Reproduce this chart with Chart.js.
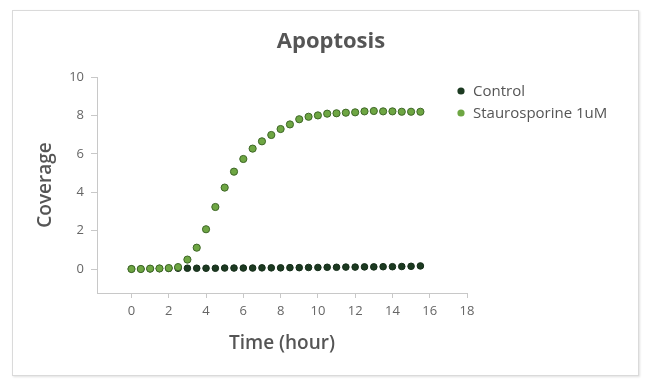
<!DOCTYPE html>
<html>
<head>
<meta charset="utf-8">
<script src="https://cdn.jsdelivr.net/npm/chart.js@4.4.1/dist/chart.umd.min.js"></script>
<style>
    html, body { margin: 0; padding: 0; background: #fff; }
    #wrap { position: relative; width: 650px; height: 383px; }
    #frame {
        position: absolute; left: 12px; top: 10px; width: 625px; height: 364px;
        border: 1px solid #dadada; box-shadow: 1px 1px 2px rgba(0, 0, 0, 0.12);
    }
    #apoptosisChart { position: absolute; left: 0; top: 0; }
</style>
</head>
<body>
<div id="wrap">
    <div id="frame"></div>
    <canvas id="apoptosisChart" width="650" height="383"></canvas>
</div>
<script>
const chartTitle = "Apoptosis";
const seriesNames = ["Control", "Staurosporine 1uM"];
const times = [0, 0.5, 1, 1.5, 2, 2.5, 3, 3.5, 4, 4.5, 5, 5.5, 6, 6.5, 7, 7.5,
    8, 8.5, 9, 9.5, 10, 10.5, 11, 11.5, 12, 12.5, 13, 13.5, 14, 14.5, 15, 15.5];
const controlValues = [0, 0, 0.01, 0.02, 0.03, 0.04, 0.04, 0.04, 0.04, 0.04, 0.05, 0.05,
    0.05, 0.05, 0.06, 0.06, 0.06, 0.07, 0.07, 0.08, 0.08, 0.09, 0.09, 0.1, 0.1, 0.11,
    0.11, 0.12, 0.12, 0.13, 0.14, 0.16];
const stauroValues = [0, 0, 0.02, 0.03, 0.05, 0.1, 0.49, 1.11, 2.07, 3.23, 4.24, 5.07,
    5.73, 6.27, 6.65, 6.98, 7.29, 7.53, 7.8, 7.93, 8.0, 8.09, 8.11, 8.14, 8.16, 8.21,
    8.23, 8.21, 8.21, 8.19, 8.19, 8.19];
const xTicks = [0, 2, 4, 6, 8, 10, 12, 14, 16, 18];
const yTicks = [0, 2, 4, 6, 8, 10];

(() => {
    const el = document.getElementById("apoptosisChart");
    const font = "'Open Sans', 'Noto Sans', sans-serif";
    const toPoints = vals => times.map((t, i) => ({ x: t, y: vals[i] }));

    // title and legend sit over the plot, so they are painted by hand
    const sideText = {
        id: "sideText",
        afterDraw(chart) {
            const ctx = chart.ctx;
            ctx.save();
            ctx.fillStyle = "#555";
            ctx.font = "bold 22px " + font;
            ctx.textAlign = "center";
            ctx.textBaseline = "alphabetic";
            ctx.fillText(chartTitle, 331, 48);

            // legend in the order: Control, Staurosporine
            const order = [1, 0];
            ctx.font = "15px " + font;
            ctx.textAlign = "left";
            ctx.textBaseline = "middle";
            order.forEach((di, row) => {
                const ds = chart.data.datasets[di];
                const y = 91 + row * 22;
                ctx.beginPath();
                ctx.arc(461, y, 3.6, 0, Math.PI * 2);
                ctx.fillStyle = ds.pointBackgroundColor;
                ctx.fill();
                ctx.fillStyle = "#555";
                ctx.fillText(ds.label, 473, y + 1);
            });
            ctx.restore();
        }
    };

    new Chart(el, {
        type: "scatter",
        data: {
            datasets: [
                {
                    label: seriesNames[1],
                    data: toPoints(stauroValues),
                    pointBackgroundColor: "#6ea643",
                    pointBorderColor: "#3d6626",
                    pointBorderWidth: 1,
                    pointRadius: 3.6
                },
                {
                    label: seriesNames[0],
                    data: toPoints(controlValues),
                    pointBackgroundColor: "#1c3a21",
                    pointBorderColor: "#142c18",
                    pointBorderWidth: 1,
                    pointRadius: 3.3
                }
            ]
        },
        options: {
            responsive: false,
            animation: false,
            layout: { padding: { left: 13, right: 183, top: 77, bottom: 10 } },
            scales: {
                x: {
                    type: "linear",
                    min: -1.85,
                    max: 18,
                    afterBuildTicks: s => { s.ticks = xTicks.map(v => ({ value: v })); },
                    afterFit: s => { s.height = 80; },
                    grid: { drawOnChartArea: false, tickLength: 5, color: "#c8c8c8" },
                    border: { color: "#c8c8c8" },
                    ticks: { color: "#666", padding: 5, font: { family: font, size: 13 } },
                    title: {
                        display: true,
                        text: "Time (hour)",
                        color: "#555",
                        padding: { top: 0, bottom: 18 },
                        font: { family: font, size: 19, weight: "600" }
                    }
                },
                y: {
                    min: -1.25,
                    max: 10,
                    afterBuildTicks: s => { s.ticks = yTicks.map(v => ({ value: v })); },
                    afterFit: s => { s.width = 84; },
                    grid: { drawOnChartArea: false, tickLength: 6, color: "#c8c8c8" },
                    border: { color: "#c8c8c8" },
                    ticks: { color: "#666", padding: 7, font: { family: font, size: 13 } },
                    title: {
                        display: true,
                        text: "Coverage",
                        color: "#555",
                        padding: { top: 21, bottom: 0 },
                        font: { family: font, size: 19, weight: "600" }
                    }
                }
            },
            plugins: {
                legend: { display: false },
                tooltip: { enabled: false }
            }
        },
        plugins: [sideText]
    });
})();
</script>
</body>
</html>
